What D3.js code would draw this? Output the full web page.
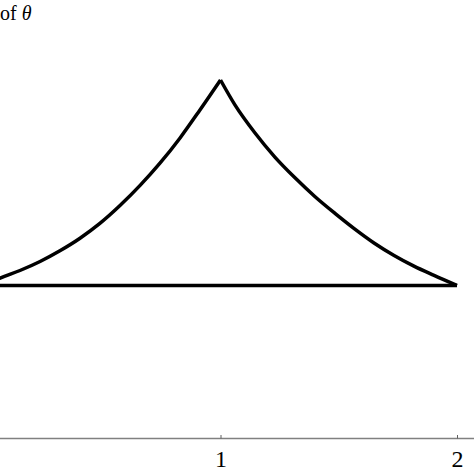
<!DOCTYPE html>
<html>
<head>
<meta charset="utf-8">
<script src="https://cdn.jsdelivr.net/npm/d3@7"></script>
<style>
  html, body { margin: 0; padding: 0; background: #fff; }
  #chart { width: 474px; height: 474px; overflow: hidden; }
  text { font-family: "Liberation Serif", "DejaVu Serif", serif; }
</style>
</head>
<body>
<div id="chart"></div>
<script>
// values (y scaled so the cusp is 1)
const leftX  = [0, 0.068, 0.152, 0.237, 0.321, 0.406, 0.490, 0.575, 0.660, 0.744, 0.829, 0.913, 1.0];
const leftY  = [0, 0.036, 0.073, 0.117, 0.169, 0.230, 0.302, 0.389, 0.487, 0.595, 0.718, 0.854, 1.0];
const rightX = [1.0, 1.061, 1.146, 1.230, 1.315, 1.400, 1.484, 1.564, 1.649, 1.734, 1.818, 1.903, 2.0];
const rightY = [1.0, 0.879, 0.742, 0.625, 0.524, 0.432, 0.351, 0.278, 0.207, 0.146, 0.094, 0.049, 0];
const baseX  = [0, 2];
const baseY  = [0, 0];
const tickValues = [1, 2];
const titleText = "of ";
const titleSymbol = "θ";

const W = 474, H = 474;

const svg = d3.select("#chart")
  .append("svg")
  .attr("width", W)
  .attr("height", H);

// the plot is cropped: x = 0 sits just off the left edge
const x = d3.scaleLinear().domain([0, 2]).range([-16, 457]);
const y = d3.scaleLinear().domain([0, 1]).range([285.5, 80]);

const line = d3.line()
  .x(d => x(d[0]))
  .y(d => y(d[1]))
  .curve(d3.curveMonotoneX);

const zip = (a, b) => a.map((v, i) => [v, b[i]]);

// bottom axis
const axisY = 438.5;
svg.append("line")
  .attr("x1", 0).attr("x2", W)
  .attr("y1", axisY).attr("y2", axisY)
  .attr("stroke", "#808080")
  .attr("stroke-width", 1.5);

const axis = svg.append("g")
  .attr("transform", `translate(0,${axisY})`)
  .call(d3.axisBottom(x).tickValues(tickValues).tickSizeInner(-3.5).tickSizeOuter(0).tickFormat(d3.format("d")));

axis.select(".domain").remove();
axis.selectAll(".tick line")
  .attr("stroke", "#606060")
  .attr("stroke-width", 1);
axis.selectAll(".tick text")
  .attr("y", 28)
  .attr("dy", 0)
  .attr("fill", "#000")
  .style("font-family", "'Liberation Serif', serif")
  .style("font-size", "24px");

// horizontal base line
svg.append("path")
  .attr("d", line(zip(baseX, baseY)))
  .attr("fill", "none")
  .attr("stroke", "#000")
  .attr("stroke-width", 3.5);

// two branches meeting at the cusp
[zip(leftX, leftY), zip(rightX, rightY)].forEach(pts => {
  svg.append("path")
    .attr("d", line(pts))
    .attr("fill", "none")
    .attr("stroke", "#000")
    .attr("stroke-width", 3.5)
    .attr("stroke-linejoin", "miter");
});

// truncated label at top left
const title = svg.append("text")
  .attr("x", 0)
  .attr("y", 20)
  .style("font-size", "20px")
  .attr("fill", "#000");
title.append("tspan").text(titleText);
title.append("tspan").style("font-style", "italic").text(titleSymbol);
</script>
</body>
</html>
